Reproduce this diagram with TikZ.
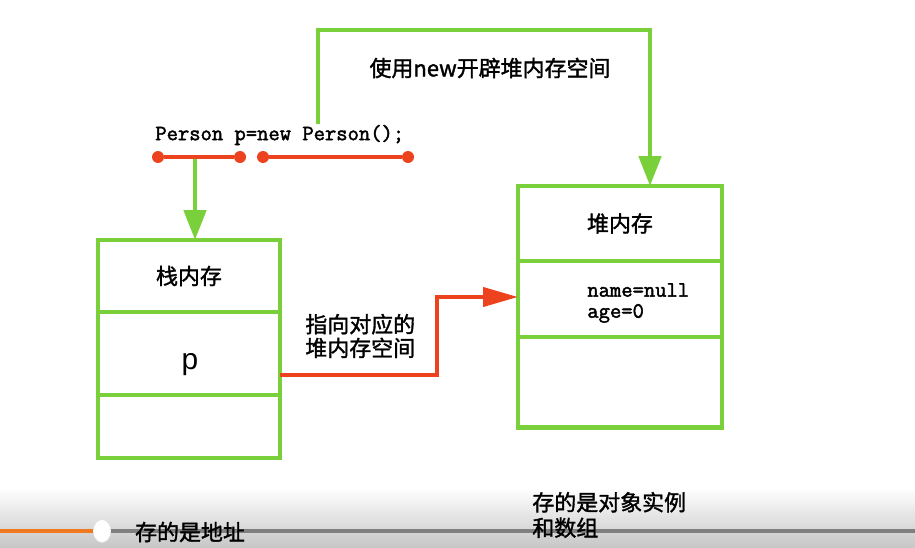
\documentclass[tikz,border=0pt]{standalone}
\usepackage{fontspec}
\newfontfamily\cjk{Noto Sans CJK SC}[FakeBold=1.5]
\newfontfamily\codefont{Latin Modern Mono}[FakeBold=2]
\newfontfamily\arial{Liberation Sans}
\usetikzlibrary{arrows.meta, positioning, shapes.geometric}
\definecolor{VertCase}{RGB}{122,208,58}
\definecolor{RougeLien}{RGB}{236,66,30}
\definecolor{OrangeBarre}{RGB}{240,120,30}
\definecolor{GrisBarre}{RGB}{128,128,128}
\tikzset{cell/.style={rectangle, draw=VertCase, line width=2.8pt,
  outer sep=0pt, inner sep=0pt, font=\cjk\fontsize{12.5}{15}\selectfont}}
\tikzset{stackcell/.style={cell, minimum width=3.64cm}}
\tikzset{heapcell/.style={cell, minimum width=4.08cm}}
\tikzset{zh/.style={font=\cjk\fontsize{12.5}{13.5}\selectfont, inner sep=0pt}}
\tikzset{code/.style={font=\codefont\fontsize{12.5}{13.5}\selectfont, inner sep=0pt}}
\tikzset{dot/.style={circle, fill=RougeLien, inner sep=0pt, minimum size=0.24cm}}
\tikzset{uline/.style={draw=RougeLien, line width=2.3pt}}
\tikzset{garrow/.style={-{Triangle[length=0.6cm, width=0.44cm]}, draw=VertCase, line width=2.8pt}}
\tikzset{rarrow/.style={-{Triangle[length=0.7cm, width=0.38cm]}, draw=RougeLien, line width=2.3pt}}

\begin{document}
\begin{tikzpicture}[x=0.02cm, y=-0.02cm]
\useasboundingbox (0,0) rectangle (915,547);
% barre du bas
\shade[top color=white, bottom color=black!22] (0,488) rectangle (915,547);
\coordinate (barL) at (0,531);
\coordinate (barR) at (915,531);
\node[ellipse, fill=white, draw=black!12, minimum width=0.36cm, minimum height=0.46cm, inner sep=0pt] (knob) at (102,531) {};
\draw[GrisBarre, line width=2.8pt] (knob) -- (barR);
\draw[OrangeBarre, line width=2.8pt] (barL) -- (knob);
\node[zh] (addr) at (190,532) {存的是地址};
\node[zh, anchor=west, align=left, font=\cjk\fontsize{12.5}{14.5}\selectfont] (inst) at (532,515) {存的是对象实例\\和数组};

% code
\node[code, anchor=west] (decl) at (155,135) {Person p=new Person();};
\node[dot] (u1a) at (158,157) {};
\node[dot] (u1b) at (240,157) {};
\node[dot] (u2a) at (263,157) {};
\node[dot] (u2b) at (408,157) {};

% pile
\node[stackcell, minimum height=1.44cm, anchor=north west] (s1) at (98,240) {栈内存};
\node[stackcell, minimum height=1.66cm, below=0pt of s1] (s2) {};
\node[stackcell, minimum height=1.26cm, below=0pt of s2] (s3) {};
\node[font=\arial\fontsize{17}{20}\selectfont, inner sep=0pt] (pvar) at (190,365) {p};

% tas
\node[heapcell, minimum height=1.5cm, anchor=north west] (h1) at (518,186) {堆内存};
\node[heapcell, minimum height=1.52cm, below=0pt of h1] (h2) {};
\node[heapcell, minimum height=1.82cm, below=0pt of h2] (h3) {};
\node[code, anchor=west, align=left, font=\codefont\fontsize{12.5}{12}\selectfont] (fields) at (587,303) {name=null\\age=0};

% fleches
\coordinate (pdown) at (195,157);
\coordinate (newpt) at (318,124);
\coordinate (turn) at (650,30);
\draw[garrow] (pdown) -- (pdown |- s1.north);
\draw[garrow] (newpt) |- (turn) -- (turn |- h1.north);
\node[zh] (newlbl) at (490,68) {使用new开辟堆内存空间};
\draw[uline] (u1a) -- (u1b);
\draw[uline] (u2a) -- (u2b);

\coordinate (bend1) at (437,375);
\coordinate (bend2) at (437,297);
\draw[rarrow] (bend1 -| s2.east) -- (bend1) -- (bend2) -- (bend2 -| h2.west);
\node[zh, anchor=west, align=left] (ptrlbl) at (305,336) {指向对应的\\堆内存空间};
\end{tikzpicture}
\end{document}
